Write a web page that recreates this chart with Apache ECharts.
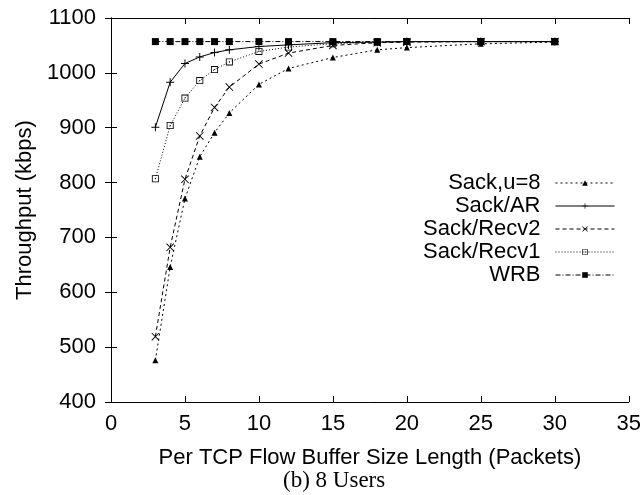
<!DOCTYPE html>
<html>
<head>
<meta charset="utf-8">
<script src="https://cdn.jsdelivr.net/npm/echarts@6/dist/echarts.min.js"></script>
<style>
  html, body { margin: 0; padding: 0; background: #fff; }
  #chart { width: 644px; height: 495px; }
</style>
</head>
<body>
<div id="chart"></div>
<script>
// Buffer sizes (packets per TCP flow)
const bufferSizes = [3, 4, 5, 6, 7, 8, 10, 12, 15, 18, 20, 25, 30];

// Throughput (kbps) per scheme
const sackU8    = [476, 646, 771, 847, 891, 927, 979, 1008, 1028, 1042, 1046, 1053, 1056];
const sackAR    = [901, 983, 1017, 1029, 1037, 1042, 1048, 1051, 1055, 1056, 1057, 1057, 1057];
const sackRecv2 = [519, 682, 806, 885, 937, 974, 1016, 1036, 1050, 1055, 1056, 1057, 1057];
const sackRecv1 = [807, 904, 954, 986, 1006, 1020, 1039, 1047, 1053, 1056, 1057, 1057, 1057];
const wrb       = [1057, 1057, 1057, 1057, 1057, 1057, 1057, 1057, 1057, 1057, 1057, 1057, 1057];

const seriesNames = ['Sack,u=8', 'Sack/AR', 'Sack/Recv2', 'Sack/Recv1', 'WRB'];
const xTicks = { min: 0, max: 35, step: 5 };
const yTicks = { min: 400, max: 1100, step: 100 };

const FONT = 'Liberation Sans';

// gnuplot-style point glyphs
const SYM_PLUS  = 'path://M0,4.4H10V5.6H0Z M4.4,0H5.6V10H4.4Z';
const SYM_CROSS = 'path://M0,0.8L0.8,0L10,9.2L9.2,10Z M9.2,0L10,0.8L0.8,10L0,9.2Z';
const SYM_BOX   = 'path://M0,0H10V10H0Z M1.2,1.2V8.8H8.8V1.2Z M4.3,4.3H5.7V5.7H4.3Z';

const styles = [
  { data: sackU8,    symbol: 'triangle', size: 6, dash: [2, 3] },
  { data: sackAR,    symbol: SYM_PLUS,   size: 8, dash: 'solid' },
  { data: sackRecv2, symbol: SYM_CROSS,  size: 8, dash: [4, 3] },
  { data: sackRecv1, symbol: SYM_BOX,    size: 7, dash: [1, 2] },
  { data: wrb,       symbol: 'rect',     size: 7, dash: [5, 2, 1, 2] }
];

const series = styles.map((s, i) => ({
  name: seriesNames[i],
  type: 'line',
  xAxisIndex: 0,
  yAxisIndex: 0,
  data: bufferSizes.map((x, j) => [x, s.data[j]]),
  symbol: s.symbol,
  symbolSize: s.size,
  showAllSymbol: true,
  lineStyle: { color: '#000', width: 1, type: s.dash },
  itemStyle: { color: '#000' },
  emphasis: { disabled: true }
}));

// one right-aligned legend row per series
const legendTop0 = 172, legendStep = 23;
const legends = seriesNames.map((name, i) => ({
  data: [name],
  orient: 'vertical',
  align: 'right',
  right: 29,
  top: legendTop0 + legendStep * i,
  padding: 0,
  itemWidth: 59,
  itemHeight: 7,
  selectedMode: false,
  lineStyle: { width: 1 },
  textStyle: { fontFamily: FONT, fontSize: 22, color: '#000', padding: [0, 10, 0, 0] }
}));

const plain = v => String(v);

const axisCommon = {
  type: 'value',
  axisLine: { show: true, lineStyle: { color: '#000', width: 1 } },
  axisTick: { show: true, inside: true, length: 6, lineStyle: { color: '#000', width: 1 } },
  splitLine: { show: false }
};

const chart = echarts.init(document.getElementById('chart'), null, { renderer: 'canvas' });
chart.setOption({
  animation: false,
  backgroundColor: '#fff',
  title: {
    text: '(b) 8 Users',
    left: 283,
    top: 469,
    padding: 0,
    textStyle: { fontFamily: 'Liberation Serif', fontSize: 23, fontWeight: 'normal', color: '#000' }
  },
  legend: legends,
  grid: { left: 111, right: 13, top: 18, bottom: 93, containLabel: false },
  xAxis: [
    Object.assign({}, axisCommon, {
      position: 'bottom',
      min: xTicks.min, max: xTicks.max, interval: xTicks.step,
      name: 'Per TCP Flow Buffer Size Length (Packets)',
      nameLocation: 'middle',
      nameGap: 45,
      nameTextStyle: { fontFamily: FONT, fontSize: 22, color: '#000' },
      axisLabel: { fontFamily: FONT, fontSize: 22, color: '#000', margin: 11, formatter: plain }
    }),
    Object.assign({}, axisCommon, {
      position: 'top',
      min: xTicks.min, max: xTicks.max, interval: xTicks.step,
      axisLabel: { show: false }
    })
  ],
  yAxis: [
    Object.assign({}, axisCommon, {
      position: 'left',
      min: yTicks.min, max: yTicks.max, interval: yTicks.step,
      name: 'Throughput (kbps)',
      nameLocation: 'middle',
      nameGap: 74,
      nameTextStyle: { fontFamily: FONT, fontSize: 22, color: '#000' },
      axisLabel: { fontFamily: FONT, fontSize: 22, color: '#000', margin: 15, formatter: plain }
    }),
    Object.assign({}, axisCommon, {
      position: 'right',
      min: yTicks.min, max: yTicks.max, interval: yTicks.step,
      axisLabel: { show: false }
    })
  ],
  series: series
});
</script>
</body>
</html>
